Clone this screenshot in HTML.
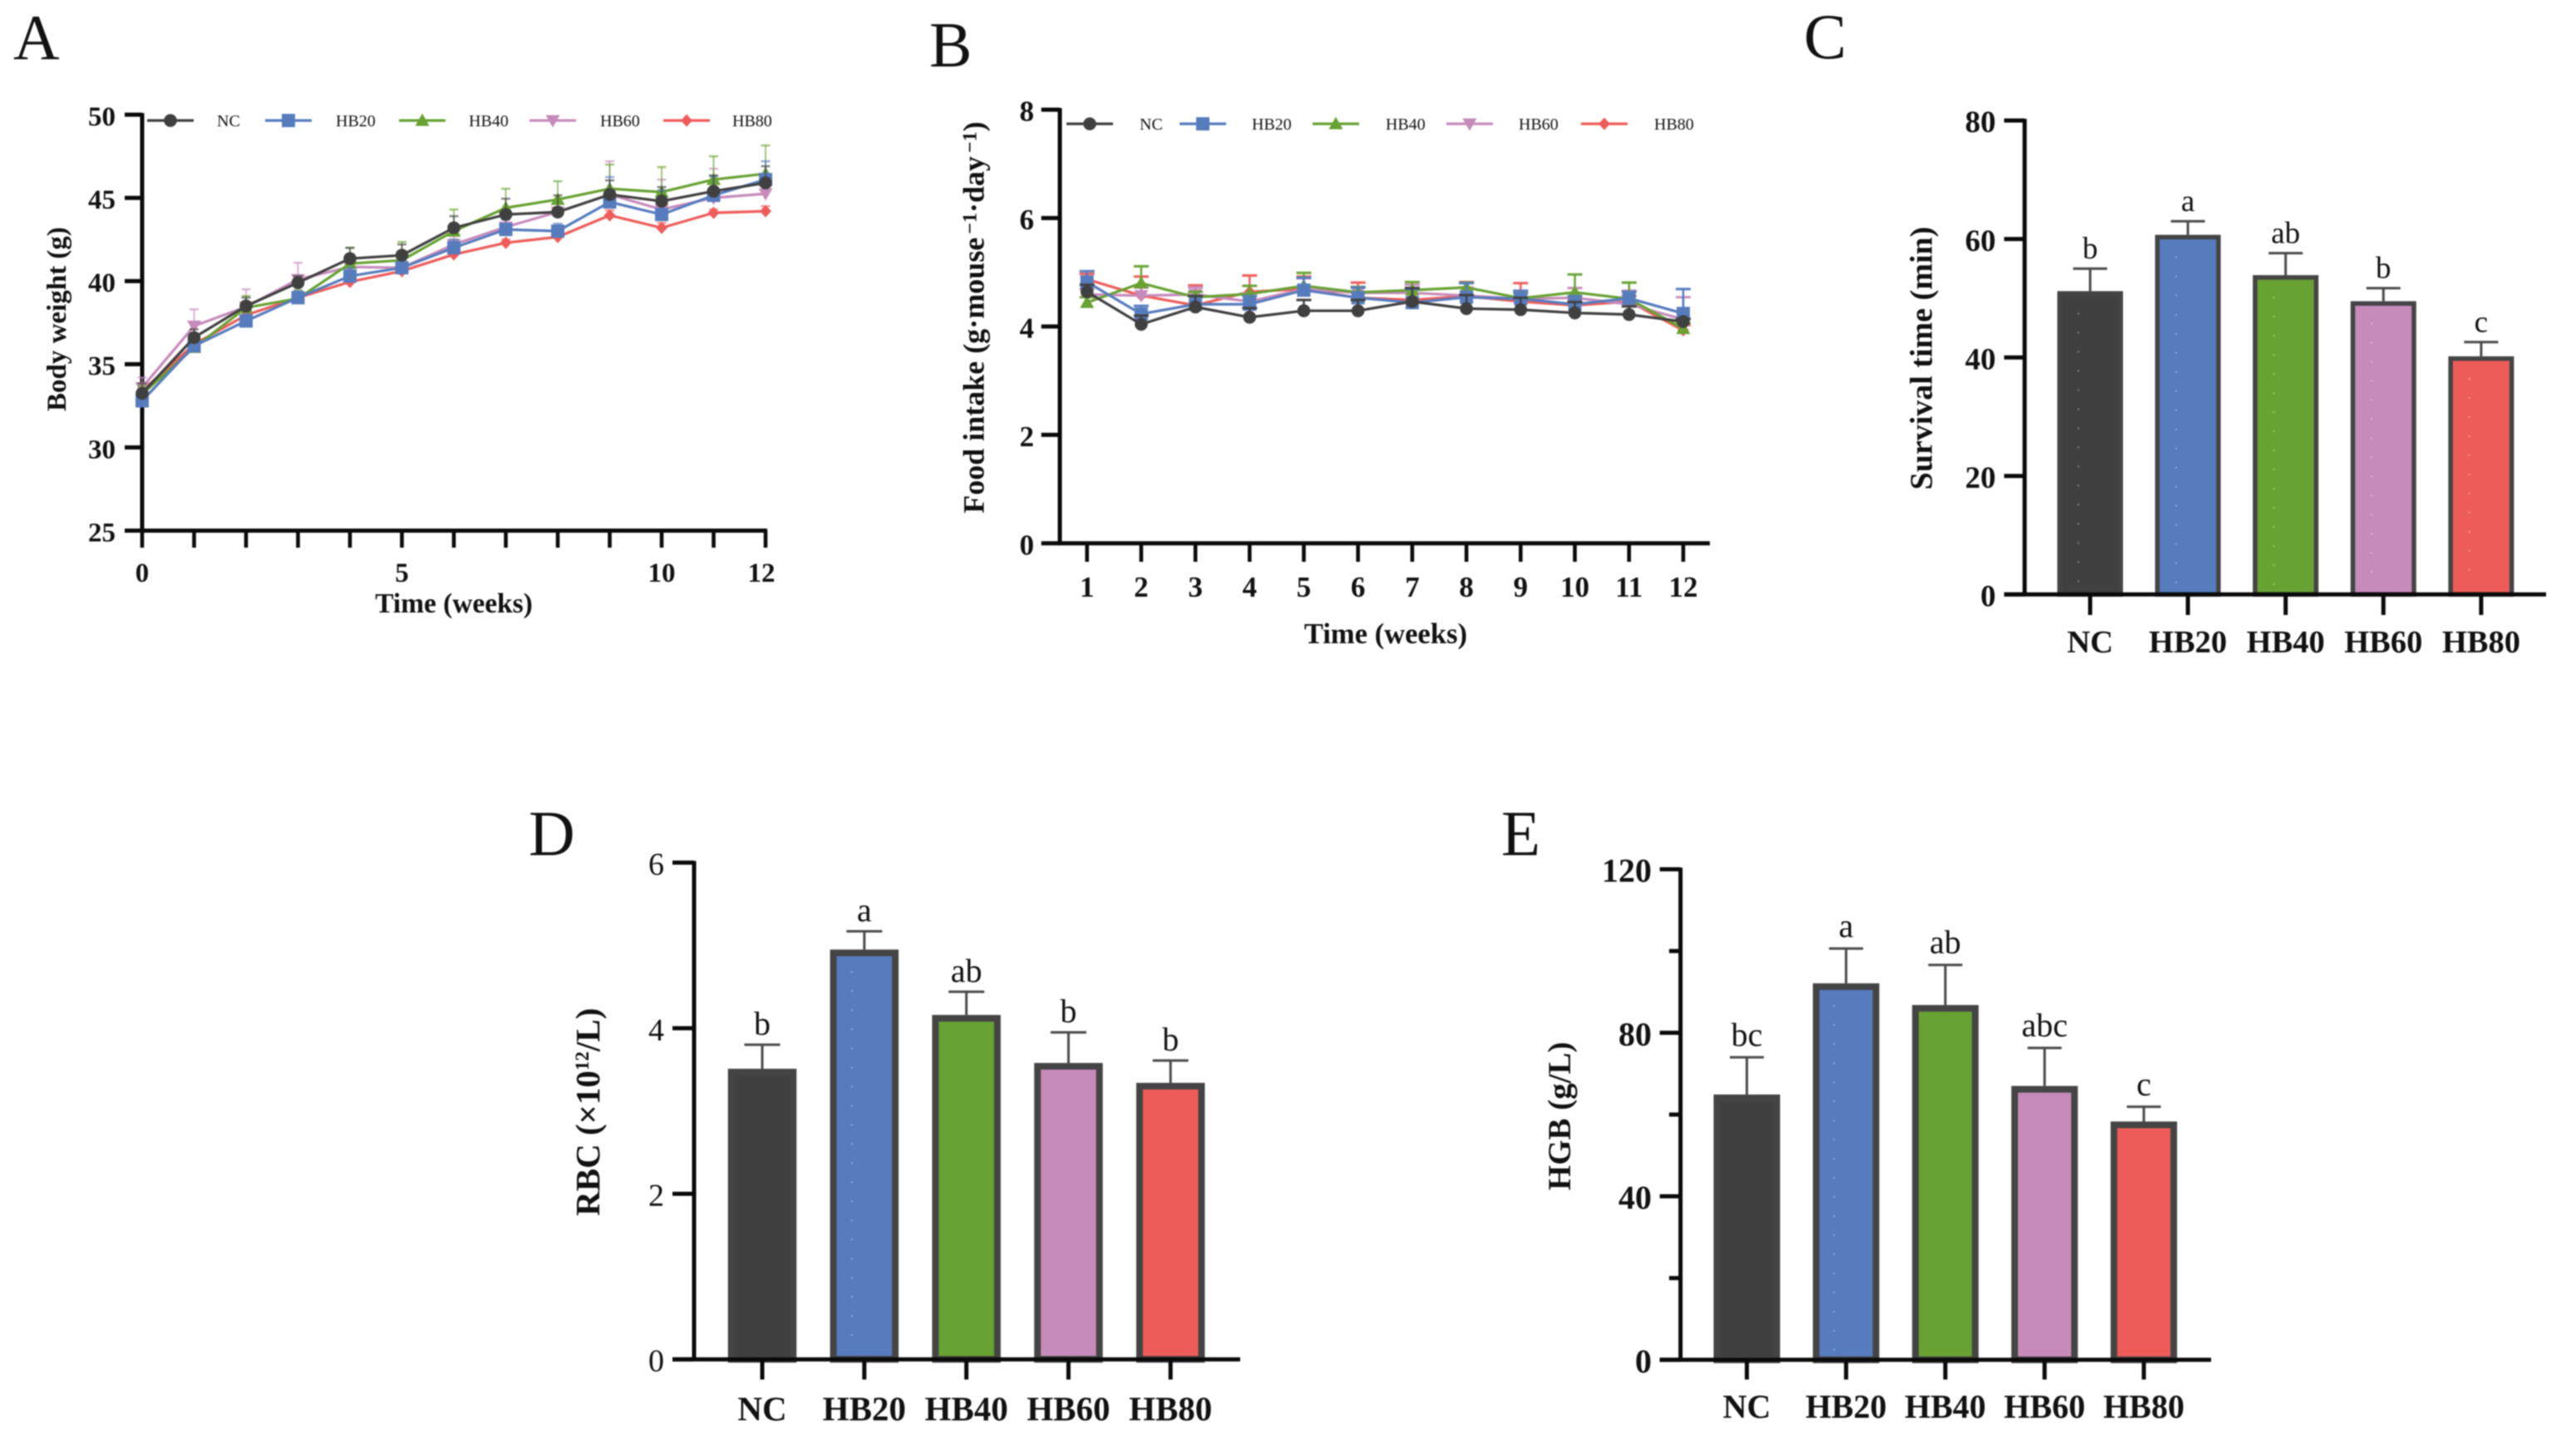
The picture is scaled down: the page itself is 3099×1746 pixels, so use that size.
<!DOCTYPE html>
<html lang="en">
<head>
<meta charset="utf-8">
<title>Body weight, food intake, survival time, RBC and HGB</title>
<style>
html,body{margin:0;padding:0;background:#fff;}
svg{display:block;filter:blur(0.7px);}
text{font-family:"Liberation Serif",serif;fill:#111;}
.letter{font-size:77px;font-weight:400;}
.title{font-weight:700;text-anchor:middle;}
</style>
</head>
<body>
<svg id="figure" xmlns="http://www.w3.org/2000/svg" width="3099" height="1746" viewBox="0 0 3099 1746">
  <rect x="0" y="0" width="3099" height="1746" fill="#fff"/>

  <g id="panel-a">
    <text class="letter" x="16" y="71">A</text>
    <text class="title" font-size="33" transform="translate(79,384) rotate(-90)">Body weight (g)</text>
    <text class="title" font-size="33.4" x="546" y="737">Time (weeks)</text>
  </g>

  <g id="panel-b">
    <text class="letter" x="1118" y="80">B</text>
    <text class="title" font-size="36" transform="translate(1183.5,382) rotate(-90)">Food intake (g·mouse<tspan dx="4" dy="-9" font-size="24">−1</tspan><tspan dy="9">·day</tspan><tspan dx="4" dy="-9" font-size="24">−1</tspan><tspan dy="9">)</tspan></text>
    <text class="title" font-size="34.6" x="1667" y="774">Time (weeks)</text>
  </g>

  <g id="panel-c">
    <text class="letter" x="2170" y="70">C</text>
    <text class="title" font-size="38" transform="translate(2324,431) rotate(-90)">Survival time (min)</text>
  </g>

  <g id="panel-d">
    <text class="letter" x="636" y="1029">D</text>
    <text class="title" font-size="41" transform="translate(721,1338) rotate(-90)">RBC (×10<tspan dy="-13" font-size="23">12</tspan><tspan dy="13">/L)</tspan></text>
  </g>

  <g id="panel-e">
    <text class="letter" x="1806" y="1029">E</text>
    <text class="title" font-size="39" transform="translate(1889,1343) rotate(-90)">HGB (g/L)</text>
  </g>
</svg>

<script>
// ---------- shared categories ----------
const groups = ['NC', 'HB20', 'HB40', 'HB60', 'HB80'];

// ---------- panel A data ----------
const weeksA = [0, 1, 2, 3, 4, 5, 6, 7, 8, 9, 10, 11, 12];
const xTicksA = [0, 5, 10, 12];
const yTicksA = [25, 30, 35, 40, 45, 50];
const weightNC   = [33.25, 36.6, 38.5, 39.9, 41.35, 41.55, 43.2, 44.0, 44.15, 45.2, 44.8, 45.4, 45.9];
const weightHB20 = [32.8, 36.1, 37.6, 39.0, 40.3, 40.8, 42.0, 43.1, 43.0, 44.75, 44.0, 45.15, 46.1];
const weightHB40 = [33.2, 36.0, 38.4, 38.95, 41.05, 41.25, 43.0, 44.4, 44.9, 45.55, 45.35, 46.1, 46.45];
const weightHB60 = [33.6, 37.3, 38.45, 40.1, 40.85, 40.8, 42.2, 43.25, 44.15, 45.2, 44.3, 45.0, 45.25];
const weightHB80 = [33.4, 36.2, 37.95, 39.0, 39.95, 40.6, 41.6, 42.3, 42.65, 43.95, 43.2, 44.1, 44.2];
const weightErrNC   = [0.6, 0.5, 0.5, 0.4, 0.65, 0.65, 0.7, 0.95, 1.0, 0.85, 0.85, 0.95, 1.0];
const weightErrHB20 = [0.4, 0.4, 0.4, 0.4, 0.5, 0.5, 0.5, 0.6, 0.45, 1.5, 1.45, 1.15, 1.1];
const weightErrHB40 = [0.5, 0.5, 0.7, 0.5, 0.95, 1.1, 1.3, 1.15, 1.1, 1.45, 1.5, 1.4, 1.7];
const weightErrHB60 = [0.6, 1.0, 1.05, 1.0, 0.4, 0.4, 0.5, 0.5, 0.5, 2.0, 1.8, 1.75, 0.75];
const weightErrHB80 = [0.2, 0.3, 0.3, 0.2, 0.2, 0.3, 0.3, 0.2, 0.3, 0.3, 0.3, 0.2, 0.3];

// ---------- panel B data ----------
const weeksB = [1, 2, 3, 4, 5, 6, 7, 8, 9, 10, 11, 12];
const yTicksB = [0, 2, 4, 6, 8];
const intakeNC   = [4.64, 4.04, 4.36, 4.17, 4.29, 4.29, 4.46, 4.33, 4.31, 4.25, 4.22, 4.09];
const intakeHB20 = [4.82, 4.23, 4.41, 4.41, 4.67, 4.53, 4.44, 4.54, 4.51, 4.41, 4.52, 4.24];
const intakeHB40 = [4.44, 4.80, 4.54, 4.60, 4.75, 4.63, 4.67, 4.72, 4.52, 4.63, 4.51, 3.96];
const intakeHB60 = [4.59, 4.57, 4.59, 4.46, 4.69, 4.62, 4.62, 4.57, 4.51, 4.53, 4.41, 4.13];
const intakeHB80 = [4.87, 4.57, 4.39, 4.64, 4.69, 4.53, 4.49, 4.56, 4.46, 4.39, 4.46, 3.93];
const intakeErrNC   = [0.13, 0.16, 0.20, 0.17, 0.20, 0.20, 0.25, 0.25, 0.22, 0.20, 0.15, 0.05];
const intakeErrHB20 = [0.20, 0.15, 0.15, 0.15, 0.23, 0.19, 0.25, 0.26, 0.15, 0.15, 0.12, 0.45];
const intakeErrHB40 = [0.10, 0.31, 0.10, 0.15, 0.24, 0.10, 0.15, 0.09, 0.10, 0.33, 0.30, 0.10];
const intakeErrHB60 = [0.10, 0.15, 0.13, 0.15, 0.20, 0.10, 0.15, 0.15, 0.10, 0.18, 0.25, 0.41];
const intakeErrHB80 = [0.10, 0.35, 0.37, 0.30, 0.23, 0.28, 0.20, 0.26, 0.34, 0.10, 0.10, 0.10];

// ---------- panel C data ----------
const survivalTicks = [0, 20, 40, 60, 80];
const survivalMeans = [51.2, 60.7, 53.9, 49.5, 40.2];
const survivalTops  = [55.0, 63.0, 57.6, 51.7, 42.6];
const survivalLetters = ['b', 'a', 'ab', 'b', 'c'];

// ---------- panel D data ----------
const rbcTicks = [0, 2, 4, 6];
const rbcMeans = [3.51, 4.95, 4.16, 3.58, 3.34];
const rbcTops  = [3.80, 5.17, 4.44, 3.95, 3.61];
const rbcLetters = ['b', 'a', 'ab', 'b', 'b'];

// ---------- panel E data ----------
const hgbTicks = [0, 40, 80, 120];
const hgbMinorTicks = [20, 60, 100];
const hgbMeans = [64.9, 92.1, 86.8, 67.0, 58.3];
const hgbTops  = [74.0, 100.6, 96.6, 76.3, 61.9];
const hgbLetters = ['bc', 'a', 'ab', 'abc', 'c'];

// ---------- styling ----------
const groupColors = ['#404040', '#567cbe', '#68a232', '#c78bbb', '#ee5c5a'];
const AXIS = '#0a0a0a';
const NS = 'http://www.w3.org/2000/svg';

function make(tag, attrs, parent) {
  const node = document.createElementNS(NS, tag);
  for (const key in attrs) node.setAttribute(key, attrs[key]);
  parent.appendChild(node);
  return node;
}

function linear(d0, d1, r0, r1) {
  return function (v) { return r0 + (v - d0) * (r1 - r0) / (d1 - d0); };
}

function drawMarker(parent, kind, cx, cy, color, label) {
  let m;
  if (kind === 0) {
    m = make('circle', { cx: cx, cy: cy, r: 7.8, fill: color }, parent);
  } else if (kind === 1) {
    m = make('rect', { x: cx - 8, y: cy - 8, width: 16, height: 16, fill: color }, parent);
  } else {
    let d;
    if (kind === 2) d = [[cx, cy - 8.5], [cx + 8.5, cy + 6.5], [cx - 8.5, cy + 6.5]];
    if (kind === 3) d = [[cx, cy + 8.5], [cx + 8.5, cy - 6.5], [cx - 8.5, cy - 6.5]];
    if (kind === 4) d = [[cx, cy - 7.5], [cx + 7, cy], [cx, cy + 7.5], [cx - 7, cy]];
    m = make('polygon', { points: d.map(function (p) { return p.join(','); }).join(' '), fill: color }, parent);
  }
  
  
  return m;
}

function drawYAxis(parent, sy, ticks, minor, o) {
  const axis = make('line', { x1: o.axisX, x2: o.axisX, y1: sy(o.yMax) - 2, y2: sy(o.yMin) + 2, stroke: AXIS, 'stroke-width': o.axisW }, parent);
  
  
  ticks.forEach(function (t) {
    const tick = make('line', { x1: o.tickLeft, x2: o.axisX, y1: sy(t), y2: sy(t), stroke: AXIS, 'stroke-width': o.axisW }, parent);
    
    
    const label = make('text', { x: o.labelRight, y: sy(t) + o.fontSize * 0.33 + 2, 'text-anchor': 'end', 'font-size': o.fontSize, 'font-weight': o.tickWeight }, parent);
    label.textContent = t;
    
    
  });
  minor.forEach(function (t) {
    const tick = make('line', { x1: o.minorLeft, x2: o.axisX, y1: sy(t), y2: sy(t), stroke: AXIS, 'stroke-width': o.axisW }, parent);
    
    
  });
}

function drawLinePanel(parent, o) {
  const sx = linear(o.xFirst, o.xLast, o.x0, o.x1);
  const sy = linear(o.yMin, o.yMax, o.yBottom, o.yTop);
  drawYAxis(parent, sy, o.yTicks, [], o);

  const xAxis = make('line', { x1: o.axisX - 2, x2: o.axisRight, y1: o.yBottom, y2: o.yBottom, stroke: AXIS, 'stroke-width': o.axisW }, parent);
  
  
  o.weeks.forEach(function (w) {
    const tick = make('line', { x1: sx(w), x2: sx(w), y1: o.yBottom, y2: o.tickBottom, stroke: AXIS, 'stroke-width': o.tickW }, parent);
    
    
  });
  o.xLabels.forEach(function (w) {
    const nudge = (o.nudgeLast && w === o.xLast) ? -5 : 0;
    const label = make('text', { x: sx(w) + nudge, y: o.xLabelY, 'text-anchor': 'middle', 'font-size': o.fontSize, 'font-weight': 700 }, parent);
    label.textContent = w;
    
    
  });

  // draw from last group to first so NC ends up on top
  for (let g = groups.length - 1; g >= 0; g--) {
    const series = make('g', {}, parent);
    
    
    const values = o.values[g];
    const errs = o.errors[g];
    values.forEach(function (v, i) {
      const cx = sx(o.weeks[i]);
      const top = sy(v + errs[i]);
      const bar = make('line', { x1: cx, x2: cx, y1: sy(v), y2: top, stroke: groupColors[g], 'stroke-width': o.errW, opacity: o.errOpacity }, series);
      
      
      const cap = make('line', { x1: cx - o.capW / 2, x2: cx + o.capW / 2, y1: top, y2: top, stroke: groupColors[g], 'stroke-width': o.errW + 0.5, opacity: o.errOpacity }, series);
      
      
    });
    const path = make('polyline', {
      points: values.map(function (v, i) { return sx(o.weeks[i]) + ',' + sy(v); }).join(' '),
      fill: 'none', stroke: groupColors[g], 'stroke-width': 3.2, 'stroke-linejoin': 'round'
    }, series);
    
    
    values.forEach(function (v, i) {
      drawMarker(series, g, sx(o.weeks[i]), sy(v), groupColors[g], 'point-' + groups[g] + '-' + o.weeks[i]);
    });
  }

  // legend
  const legend = make('g', {}, parent);
  
  
  groups.forEach(function (name, g) {
    const entry = make('g', {}, legend);
    
    
    const lx = o.legendLineX[g];
    const swatch = make('line', { x1: lx, x2: lx + 56, y1: o.legendY, y2: o.legendY, stroke: groupColors[g], 'stroke-width': 3.2 }, entry);
    
    
    drawMarker(entry, g, lx + 28, o.legendY, groupColors[g], 'legend-marker-' + name);
    const label = make('text', { x: o.legendTextX[g], y: o.legendY + 7, 'font-size': 20 }, entry);
    label.textContent = name;
    
    
  });
}

function drawBarPanel(parent, o) {
  const sy = linear(0, o.yMax, o.yBottom, o.yTop);
  const cx = function (i) { return o.firstX + i * o.step; };

  o.means.forEach(function (v, i) {
    const bw = o.border;
    const bar = make('rect', {
      x: cx(i) - o.barW / 2 + bw / 2, y: sy(v) + bw / 2,
      width: o.barW - bw, height: Math.max(0, o.yBottom - sy(v) - bw / 2),
      fill: groupColors[i], stroke: '#444444', 'stroke-width': bw
    }, parent);
    
    

    if (o.dots[i]) {
      const dots = make('line', {
        x1: cx(i) - o.barW * 0.18, x2: cx(i) - o.barW * 0.18, y1: sy(v) + 26, y2: o.yBottom - 8,
        stroke: '#ffffff', 'stroke-width': 1.6, 'stroke-dasharray': '2 21', opacity: 0.4
      }, parent);
      
      
    }

    const top = sy(o.tops[i]);
    const err = make('line', { x1: cx(i), x2: cx(i), y1: sy(v), y2: top, stroke: '#4a4a4a', 'stroke-width': 3 }, parent);
    
    
    const cap = make('line', { x1: cx(i) - o.capW / 2, x2: cx(i) + o.capW / 2, y1: top, y2: top, stroke: '#4a4a4a', 'stroke-width': 3 }, parent);
    
    

    const letter = make('text', { x: cx(i), y: top - o.letterGap, 'text-anchor': 'middle', 'font-size': o.letterSize }, parent);
    letter.textContent = o.letters[i];
    
    

    const tick = make('line', { x1: cx(i), x2: cx(i), y1: o.yBottom, y2: o.tickBottom, stroke: AXIS, 'stroke-width': o.axisW }, parent);
    
    

    const label = make('text', { x: cx(i), y: o.catY, 'text-anchor': 'middle', 'font-size': o.catSize, 'font-weight': 700 }, parent);
    label.textContent = groups[i];
    
    
  });

  drawYAxis(parent, sy, o.yTicks, o.minor, {
    axisX: o.axisX, yMin: 0, yMax: o.yMax, axisW: o.axisW, tickLeft: o.tickLeft, minorLeft: o.minorLeft,
    labelRight: o.labelRight, fontSize: o.fontSize, tickWeight: o.tickWeight
  });

  const xAxis = make('line', { x1: o.tickLeft, x2: o.axisRight, y1: o.yBottom, y2: o.yBottom, stroke: AXIS, 'stroke-width': o.axisW }, parent);
  
  
}

drawLinePanel(document.getElementById('panel-a'), {
  weeks: weeksA, xLabels: xTicksA, nudgeLast: true, yTicks: yTicksA,
  values: [weightNC, weightHB20, weightHB40, weightHB60, weightHB80],
  errors: [weightErrNC, weightErrHB20, weightErrHB40, weightErrHB60, weightErrHB80],
  xFirst: 0, xLast: 12, x0: 171, x1: 921,
  yMin: 25, yMax: 50, yBottom: 638.5, yTop: 138,
  axisX: 171, axisRight: 923, axisW: 5, tickW: 4.6, tickLeft: 150, tickBottom: 659,
  labelRight: 139, fontSize: 33, tickWeight: 700, xLabelY: 700,
  errW: 2, errOpacity: 0.62, capW: 11,
  legendY: 145,
  legendLineX: [177, 319, 480, 637, 798],
  legendTextX: [261, 404, 564, 722, 881]
});

drawLinePanel(document.getElementById('panel-b'), {
  weeks: weeksB, xLabels: weeksB, nudgeLast: false, yTicks: yTicksB,
  values: [intakeNC, intakeHB20, intakeHB40, intakeHB60, intakeHB80],
  errors: [intakeErrNC, intakeErrHB20, intakeErrHB40, intakeErrHB60, intakeErrHB80],
  xFirst: 1, xLast: 12, x0: 1307.7, x1: 2025,
  yMin: 0, yMax: 8, yBottom: 653.7, yTop: 132,
  axisX: 1275, axisRight: 2057, axisW: 5, tickW: 4.6, tickLeft: 1252.7, tickBottom: 676,
  labelRight: 1244, fontSize: 35, tickWeight: 700, xLabelY: 718,
  errW: 2.6, errOpacity: 0.95, capW: 18,
  legendY: 149,
  legendLineX: [1283, 1419, 1579, 1740, 1902],
  legendTextX: [1371, 1506, 1667, 1827, 1990]
});

drawBarPanel(document.getElementById('panel-c'), {
  means: survivalMeans, tops: survivalTops, letters: survivalLetters,
  yMax: 80, yBottom: 715.3, yTop: 145, yTicks: survivalTicks, minor: [],
  firstX: 2514.5, step: 117.6, barW: 79, border: 5.5, capW: 41,
  axisX: 2435.7, axisRight: 3063, axisW: 5, tickLeft: 2411, minorLeft: 2411, tickBottom: 740,
  labelRight: 2401, fontSize: 37, tickWeight: 700,
  catY: 785, catSize: 38.5, letterSize: 37, letterGap: 12,
  dots: [true, true, true, true, true]
});

drawBarPanel(document.getElementById('panel-d'), {
  means: rbcMeans, tops: rbcTops, letters: rbcLetters,
  yMax: 6, yBottom: 1635.7, yTop: 1038, yTicks: rbcTicks, minor: [],
  firstX: 917, step: 122.8, barW: 82.5, border: 8, capW: 43,
  axisX: 835, axisRight: 1492, axisW: 5, tickLeft: 809, minorLeft: 809, tickBottom: 1660,
  labelRight: 799, fontSize: 38, tickWeight: 400,
  catY: 1709, catSize: 41, letterSize: 40, letterGap: 12,
  dots: [false, true, false, false, false]
});

drawBarPanel(document.getElementById('panel-e'), {
  means: hgbMeans, tops: hgbTops, letters: hgbLetters,
  yMax: 120, yBottom: 1636.3, yTop: 1046, yTicks: hgbTicks, minor: hgbMinorTicks,
  firstX: 2101.5, step: 119.4, barW: 80, border: 8, capW: 41,
  axisX: 2021.7, axisRight: 2660, axisW: 5, tickLeft: 1996.7, minorLeft: 2008, tickBottom: 1660,
  labelRight: 1987, fontSize: 40, tickWeight: 700,
  catY: 1706, catSize: 40, letterSize: 40, letterGap: 14,
  dots: [false, true, false, false, false]
});
</script>
</body>
</html>
